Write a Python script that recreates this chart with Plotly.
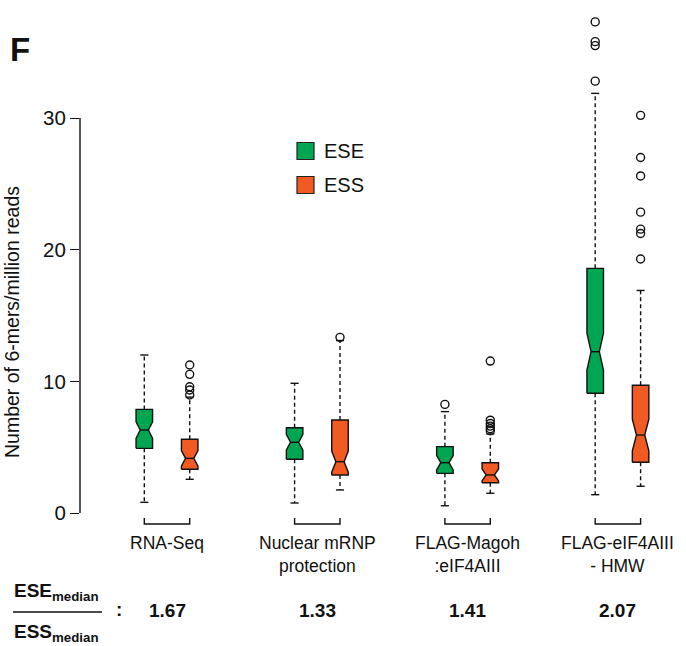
import plotly.graph_objects as go

# ---- data -------------------------------------------------------------
groups = ["RNA-Seq", "Nuclear mRNP<br>protection", "FLAG-Magoh<br>:eIF4AIII", "FLAG-eIF4AIII<br>- HMW"]
group_pos = [1, 2, 3, 4]

ese_q1 = [4.91, 4.08, 3.01, 9.09]
ese_median = [6.30, 5.37, 3.82, 12.25]
ese_q3 = [7.87, 6.48, 5.04, 18.58]
ese_lower = [0.81, 0.76, 0.55, 1.39]
ese_upper = [12.0, 9.85, 7.70, 31.87]
ese_notch = [0.63, 0.60, 0.55, 1.40]
ese_outliers = [[], [], [8.25], [37.3, 35.8, 35.5, 32.8]]

ess_q1 = [3.32, 2.89, 2.30, 3.85]
ess_median = [4.15, 3.90, 2.89, 5.92]
ess_q3 = [5.60, 7.06, 3.82, 9.70]
ess_lower = [2.56, 1.75, 1.50, 2.03]
ess_upper = [8.80, 13.10, 6.00, 16.90]
ess_notch = [0.60, 0.80, 0.45, 1.20]
ess_outliers = [[11.24, 10.53, 9.59, 9.34, 8.96], [13.34],
                [11.54, 7.05, 6.80, 6.60, 6.40, 6.25],
                [30.2, 27.0, 25.6, 22.85, 21.56, 21.23, 19.29]]

ratio_labels = ["1.67", "1.33", "1.41", "2.07"]
y_ticks = [0, 10, 20, 30]

# ---- styling ----------------------------------------------------------
W, H = 686, 646
ML, MR, MT, MB = 80, 0, 10, 0
GREEN = "#00A651"
ORANGE = "#F15A22"
INK = "#111111"
FONT = "Liberation Sans, Arial, Helvetica, sans-serif"
LW = 1.4
BOX_HALF = 0.055
CAP_HALF = 0.027
OFFSET = 0.151


def px_x(p):
    return (p - ML) / (W - ML - MR)


def px_y(p):
    return (H - MB - p) / (H - MT - MB)


series = [
    ("ESE", GREEN, -OFFSET, ese_q1, ese_median, ese_q3, ese_lower, ese_upper, ese_notch, ese_outliers),
    ("ESS", ORANGE, OFFSET, ess_q1, ess_median, ess_q3, ess_lower, ess_upper, ess_notch, ess_outliers),
]

fig = go.Figure()

for name, color, off, q1s, meds, q3s, los, ups, notches, outs in series:
    for i, g in enumerate(group_pos):
        c = g + off
        q1, med, q3, lo, up, ns = q1s[i], meds[i], q3s[i], los[i], ups[i], notches[i]
        w, wn = BOX_HALF, BOX_HALF / 2
        # dashed whiskers
        fig.add_trace(go.Scatter(
            x=[c, c, None, c, c], y=[q3, up, None, q1, lo], mode="lines",
            line=dict(color=INK, width=LW, dash="4px,3px"),
            hoverinfo="skip", showlegend=False))
        # whisker staples
        fig.add_trace(go.Scatter(
            x=[c - CAP_HALF, c + CAP_HALF, None, c - CAP_HALF, c + CAP_HALF],
            y=[up, up, None, lo, lo], mode="lines",
            line=dict(color=INK, width=LW),
            hoverinfo="skip", showlegend=False))
        # notched box
        nlo, nhi = med - ns, med + ns
        bx = [c - w, c - w, c - wn, c - w, c - w, c + w, c + w, c + wn, c + w, c + w, c - w]
        by = [q1, nlo, med, nhi, q3, q3, nhi, med, nlo, q1, q1]
        fig.add_trace(go.Scatter(
            x=bx, y=by, mode="lines", fill="toself", fillcolor=color,
            line=dict(color=INK, width=LW),
            hoverinfo="skip", showlegend=False))
        # median bar
        fig.add_trace(go.Scatter(
            x=[c - wn, c + wn], y=[med, med], mode="lines",
            line=dict(color=INK, width=LW),
            hoverinfo="skip", showlegend=False))
        # outliers
        if outs[i]:
            fig.add_trace(go.Scatter(
                x=[c] * len(outs[i]), y=outs[i], mode="markers",
                marker=dict(symbol="circle-open", size=8, color=INK, line=dict(width=LW)),
                hoverinfo="skip", showlegend=False))

shapes = []
annotations = []

# y axis spine covering only the tick range
shapes.append(dict(type="line", xref="paper", yref="y", x0=0, x1=0,
                   y0=y_ticks[0], y1=y_ticks[-1], line=dict(color=INK, width=LW)))

# brackets joining each pair, with group names and ratios
for i, g in enumerate(group_pos):
    x0, x1 = g - OFFSET, g + OFFSET
    yb, yt = px_y(524), px_y(518)
    shapes.append(dict(type="path", xref="x", yref="paper",
                       path=f"M {x0},{yt} L {x0},{yb} L {x1},{yb} L {x1},{yt}",
                       line=dict(color=INK, width=LW)))
    annotations.append(dict(x=g, xref="x", y=px_y(531), yref="paper", text=groups[i],
                            showarrow=False, xanchor="center", yanchor="top",
                            font=dict(family=FONT, size=17.5, color=INK)))
    annotations.append(dict(x=g, xref="x", y=px_y(610), yref="paper",
                            text=f"<b>{ratio_labels[i]}</b>",
                            showarrow=False, xanchor="center", yanchor="middle",
                            font=dict(family=FONT, size=19, color=INK)))

# ratio legend: ESE_median / ESS_median :
annotations.append(dict(x=px_x(12), xref="paper", y=px_y(592), yref="paper",
                        text="<b>ESE<sub>median</sub></b>", showarrow=False,
                        xanchor="left", yanchor="middle",
                        font=dict(family=FONT, size=19, color=INK)))
annotations.append(dict(x=px_x(12), xref="paper", y=px_y(633), yref="paper",
                        text="<b>ESS<sub>median</sub></b>", showarrow=False,
                        xanchor="left", yanchor="middle",
                        font=dict(family=FONT, size=19, color=INK)))
shapes.append(dict(type="line", xref="paper", yref="paper",
                   x0=px_x(13), x1=px_x(102), y0=px_y(612), y1=px_y(612),
                   line=dict(color=INK, width=1.6)))
annotations.append(dict(x=px_x(119), xref="paper", y=px_y(609), yref="paper",
                        text="<b>:</b>", showarrow=False, xanchor="center", yanchor="middle",
                        font=dict(family=FONT, size=19, color=INK)))

# panel letter
annotations.append(dict(x=px_x(8), xref="paper", y=px_y(49), yref="paper",
                        text="<b>F</b>", showarrow=False, xanchor="left", yanchor="middle",
                        font=dict(family=FONT, size=33, color=INK)))

# y axis title
annotations.append(dict(x=px_x(12), xref="paper", y=px_y(322), yref="paper",
                        text="Number of 6-mers/million reads", textangle=-90,
                        showarrow=False, xanchor="center", yanchor="middle",
                        font=dict(family=FONT, size=19.5, color=INK)))

# series key
for k, (name, color) in enumerate([("ESE", GREEN), ("ESS", ORANGE)]):
    cy = 151 + 34 * k
    shapes.append(dict(type="rect", xref="paper", yref="paper",
                       x0=px_x(297), x1=px_x(314), y0=px_y(cy - 8.5), y1=px_y(cy + 8.5),
                       fillcolor=color, line=dict(color="#222222", width=1.2)))
    annotations.append(dict(x=px_x(322), xref="paper", y=px_y(cy), yref="paper",
                            text=name, showarrow=False, xanchor="left", yanchor="middle",
                            font=dict(family=FONT, size=20, color=INK)))

px_per_unit = (513 - 118) / 30.0
y_top = 30 + (118 - MT) / px_per_unit
y_bot = -(H - MB - 513) / px_per_unit
x_lo = 1 - (167 - ML) / 150.3
x_hi = x_lo + (W - ML - MR) / 150.3

fig.update_layout(
    width=W, height=H,
    margin=dict(l=ML, r=MR, t=MT, b=MB),
    paper_bgcolor="white", plot_bgcolor="white",
    showlegend=False,
    shapes=shapes, annotations=annotations,
    xaxis=dict(range=[x_lo, x_hi], visible=False, fixedrange=True),
    yaxis=dict(range=[y_bot, y_top], tickvals=y_ticks, ticks="outside", ticklen=9,
               tickwidth=LW, tickcolor=INK, showline=False, showgrid=False,
               zeroline=False, tickfont=dict(family=FONT, size=20.5, color=INK),
               fixedrange=True),
)

fig.write_html("out.html")
